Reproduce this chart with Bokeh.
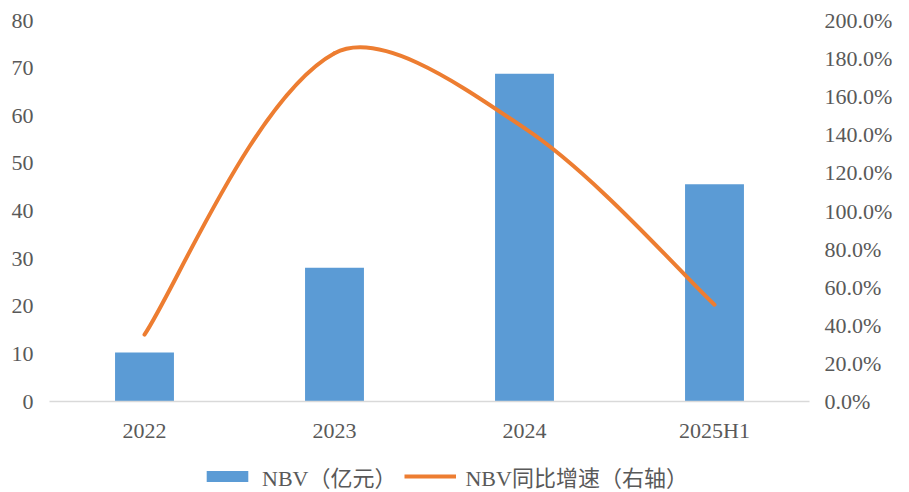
from bokeh.plotting import figure
from bokeh.layouts import column
from bokeh.models import (Range1d, LinearAxis, FixedTicker, PrintfTickFormatter,
                          Legend, LegendItem, ColumnDataSource)
from bokeh.embed import file_html
from bokeh.resources import INLINE
import math

# ---- data ----
categories = ["2022", "2023", "2024", "2025H1"]
nbv = [10.3, 28.1, 68.8, 45.6]          # 亿元
nbv_growth = [35.1, 182.8, 143.5, 50.8]  # %
series_names = ["NBV（亿元）", "NBV同比增速（右轴）"]

left_ticks = [0, 10, 20, 30, 40, 50, 60, 70, 80]
right_ticks = [0, 20, 40, 60, 80, 100, 120, 140, 160, 180, 200]

BAR = "#5B9BD5"
LINE = "#ED7D31"
TXT = "#595959"
FONT = "'Liberation Serif', 'Noto Sans CJK SC', serif"
FS = "22px"

W = 909
H_MAIN, H_LEG = 455, 37
BL, BR, BT, BB = 49, 100, 20, 54
FW, FH = W - BL - BR, H_MAIN - BT - BB

xs = list(range(len(categories)))
X0, X1 = -0.5, len(categories) - 0.5
Y2 = 200.0

p = figure(width=W, height=H_MAIN, output_backend="svg", toolbar_location=None,
           x_range=Range1d(X0, X1), y_range=Range1d(0, 80),
           min_border_left=BL, min_border_right=BR, min_border_top=BT,
           min_border_bottom=BB)
p.outline_line_color = None
p.xgrid.visible = False
p.ygrid.visible = False
p.background_fill_color = "white"
p.border_fill_color = "white"

p.extra_y_ranges = {"pct": Range1d(0, Y2)}

# bars
bars = p.vbar(x=xs, top=nbv, width=0.31, fill_color=BAR, line_color=None)

# smooth line: cubic bezier segments through the data points
sx = FW / (X1 - X0)   # px per x unit
sy = FH / Y2          # px per %
pts = [(x * sx, g * sy) for x, g in zip(xs, nbv_growth)]
n = len(pts)
k = 1.0 / 6.0

def dist(a, b):
    return math.hypot(b[0] - a[0], b[1] - a[1])

arms = []
for i in range(n):
    pm = pts[i - 1] if i > 0 else pts[i]
    pp = pts[i + 1] if i + 1 < n else pts[i]
    tx, ty = pp[0] - pm[0], pp[1] - pm[1]
    ll = dist(pm, pts[i])
    lr = dist(pts[i], pp)
    if ll > 0 and lr > 0:
        avg = (ll + lr) / 2
        wl, wr = ll / avg, lr / avg
    else:
        wl = wr = 1.0
    arms.append(((-tx * k * wl, -ty * k * wl), (tx * k * wr, ty * k * wr)))

x0s, y0s, x1s, y1s, cx0, cy0, cx1, cy1 = [], [], [], [], [], [], [], []
for i in range(n - 1):
    a, b = pts[i], pts[i + 1]
    ra = arms[i][1]
    lb = arms[i + 1][0]
    x0s.append(a[0] / sx); y0s.append(a[1] / sy)
    x1s.append(b[0] / sx); y1s.append(b[1] / sy)
    cx0.append((a[0] + ra[0]) / sx); cy0.append((a[1] + ra[1]) / sy)
    cx1.append((b[0] + lb[0]) / sx); cy1.append((b[1] + lb[1]) / sy)
src = ColumnDataSource(dict(x0=x0s, y0=y0s, x1=x1s, y1=y1s,
                            cx0=cx0, cy0=cy0, cx1=cx1, cy1=cy1))
p.bezier(x0="x0", y0="y0", x1="x1", y1="y1", cx0="cx0", cy0="cy0",
         cx1="cx1", cy1="cy1", source=src, line_color=LINE, line_width=4,
         line_cap="round", y_range_name="pct")

# axes
xa = p.xaxis[0]
xa.ticker = FixedTicker(ticks=xs)
xa.major_label_overrides = {i: c for i, c in enumerate(categories)}
xa.axis_line_color = "#D9D9D9"
xa.axis_line_width = 1.5
xa.major_tick_line_color = None
xa.minor_tick_line_color = None
xa.major_label_text_font = FONT
xa.major_label_text_font_size = FS
xa.major_label_text_color = TXT
xa.major_label_standoff = 10

ya = p.yaxis[0]
ya.ticker = FixedTicker(ticks=left_ticks)
ya.axis_line_color = None
ya.major_tick_line_color = None
ya.minor_tick_line_color = None
ya.major_label_text_font = FONT
ya.major_label_text_font_size = FS
ya.major_label_text_color = TXT
ya.major_label_standoff = 10

ra_ax = LinearAxis(y_range_name="pct", ticker=FixedTicker(ticks=right_ticks),
                   formatter=PrintfTickFormatter(format="%.1f%%"))
ra_ax.axis_line_color = None
ra_ax.major_tick_line_color = None
ra_ax.minor_tick_line_color = None
ra_ax.major_label_text_font = FONT
ra_ax.major_label_text_font_size = FS
ra_ax.major_label_text_color = TXT
ra_ax.major_label_standoff = 9
p.add_layout(ra_ax, "right")

# legend strip below the chart (swatch renderers sit outside the visible range)
lf = figure(width=W, height=H_LEG, output_backend="svg", toolbar_location=None,
            x_range=Range1d(0, 1), y_range=Range1d(0, 1),
            x_axis_type=None, y_axis_type=None,
            min_border_left=0, min_border_right=0, min_border_top=0,
            min_border_bottom=0)
lf.outline_line_color = None
lf.xgrid.visible = False
lf.ygrid.visible = False
lf.background_fill_color = "white"
lf.border_fill_color = "white"
lg_bar = lf.vbar(x=[-5], top=[-5], bottom=[-6], width=0.3, fill_color=BAR, line_color=None)
lg_line = lf.line(x=[-6, -5], y=[-5, -5], line_color=LINE, line_width=4)

legend = Legend(items=[LegendItem(label=series_names[0], renderers=[lg_bar]),
                       LegendItem(label=series_names[1], renderers=[lg_line])],
                orientation="horizontal", location=(152, 0),
                glyph_width=52, glyph_height=14, label_standoff=9, spacing=8,
                padding=0, margin=0, border_line_color=None,
                background_fill_alpha=0,
                label_text_font=FONT, label_text_font_size=FS,
                label_text_color=TXT)
lf.add_layout(legend, "center")

layout = column(p, lf, spacing=0)
open("out.html", "w").write(file_html(layout, INLINE))
